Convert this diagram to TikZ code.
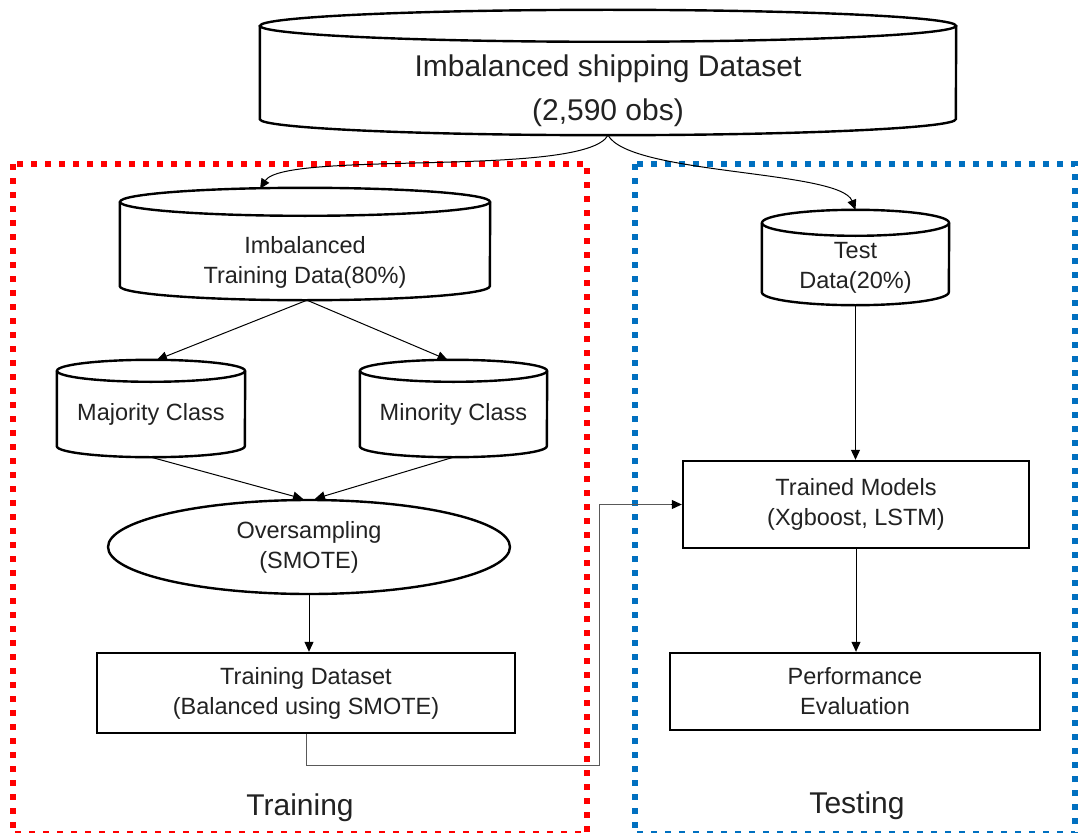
\documentclass[tikz,border=0pt]{standalone}
\usepackage{fontspec}
\setmainfont{Liberation Sans}
\usetikzlibrary{shapes.geometric,arrows.meta,calc}
\definecolor{txtc}{HTML}{222222}
\definecolor{redbox}{HTML}{FF0000}
\definecolor{bluebox}{HTML}{0070C0}
\tikzset{
  shapeline/.style={line width=2.4pt, black},
  cylbox/.style={rectangle, inner sep=0pt, draw=none},
  txt/.style={align=center, text=txtc, font=\fontsize{23.5}{30}\selectfont, inner sep=0pt},
  bigtxt/.style={align=center, text=txtc, font=\fontsize{30}{44}\selectfont, inner sep=0pt},
  plainbox/.style={rectangle, draw, line width=2.4pt, inner sep=0pt, align=center, text=txtc, font=\fontsize{23.5}{30}\selectfont},
  conn/.style={line width=1pt, black, -{Triangle[length=10pt,width=9pt]}},
  dotbox/.style={line width=5.5pt, dash pattern=on 6pt off 8pt},
}
% name, cx, cy, w, h, ry, text shift, text
\newcommand\dbcyl[8]{%
  \node[cylbox, minimum width=#4pt, minimum height=#5pt] (#1) at (#2,#3) {};
  \draw[shapeline] ([yshift=-#6pt]#1.north west) -- ([yshift=#6pt]#1.south west)
     arc[start angle=180, end angle=360, x radius=#4pt/2, y radius=#6pt]
     -- ([yshift=-#6pt]#1.north east);
  \draw[shapeline] ([yshift=-#6pt]#1.north) ellipse[x radius=#4pt/2, y radius=#6pt];
  \node[txt] (#1-t) at ([yshift=-#7pt]#1.center) {#8};
}
\begin{document}
\begin{tikzpicture}[x=1pt,y=-1pt]
\useasboundingbox (0,0) rectangle (1078,832);
\fill[white] (0,0) rectangle (1078,832);

% dotted frames
\draw[dotbox, redbox] (13,164) rectangle (587,834);
\draw[dotbox, bluebox] (635,164) rectangle (1075,834);

% top dataset
\node[cylbox, minimum width=696pt, minimum height=125pt] (top) at (608,72.5) {};
\draw[shapeline] ([yshift=-16pt]top.north west) -- ([yshift=16pt]top.south west)
   arc[start angle=180, end angle=360, x radius=348pt, y radius=16pt]
   -- ([yshift=-16pt]top.north east);
\draw[shapeline] ([yshift=-16pt]top.north) ellipse[x radius=348pt, y radius=16pt];
\node[bigtxt] (top-t) at ([yshift=-18pt]top.center) {Imbalanced shipping Dataset\\(2,590 obs)};

% cylinders
\dbcyl{tr}{305}{244}{370}{112}{14}{18}{Imbalanced\\Training Data(80\%)}
\dbcyl{maj}{151}{408.5}{188}{97}{11}{6}{Majority Class}
\dbcyl{min}{453.5}{408.5}{187}{97}{11}{6}{Minority Class}
\dbcyl{test}{855.5}{257.5}{187}{95}{13}{10}{Test\\Data(20\%)}

% oversampling ellipse
\node[ellipse, draw, line width=2.4pt, minimum width=402pt, minimum height=94pt, inner sep=0pt,
      align=center, text=txtc, font=\fontsize{23.5}{30}\selectfont] (os) at (309,547) {Oversampling\\(SMOTE)};

% boxes
\node[plainbox, minimum width=418pt, minimum height=80pt] (trd) at (306,693) {Training Dataset\\(Balanced using SMOTE)};
\node[plainbox, minimum width=346pt, minimum height=87pt] (tm) at (856,504.5) {Trained Models\\(Xgboost, LSTM)};
\node[plainbox, minimum width=370pt, minimum height=77pt] (pe) at (855,691.5) {Performance\\Evaluation};

% labels
\node[bigtxt] (lbltr) at (300,808) {Training};
\node[bigtxt] (lblte) at (857,806) {Testing};

% connectors
\draw[conn] (top.south) .. controls (585,178) and (285,150) .. ([xshift=-45pt,yshift=-1pt]tr.north);
\draw[conn] (top.south) .. controls (630,175) and (840,170) .. (test.north);
\draw[conn] ([xshift=2pt]tr.south) -- ([xshift=6pt]maj.north);
\draw[conn] ([xshift=2pt]tr.south) -- ([xshift=-6pt]min.north);
\draw[conn] (maj.south) -- ([xshift=-6pt]os.north);
\draw[conn] (min.south) -- ([xshift=6pt]os.north);
\draw[conn] (os.south) -- (os.south |- trd.north);
\draw[conn] (test.south) -- (test.south |- tm.north);
\draw[conn] (tm.south) -- (tm.south |- pe.north);
\coordinate (bend) at (599,765);
\draw[line width=1pt, draw=black!65] (trd.south) |- (bend) |- ([xshift=-10pt]tm.west);
\draw[conn] ([xshift=-11pt]tm.west) -- (tm.west);
\end{tikzpicture}
\end{document}
